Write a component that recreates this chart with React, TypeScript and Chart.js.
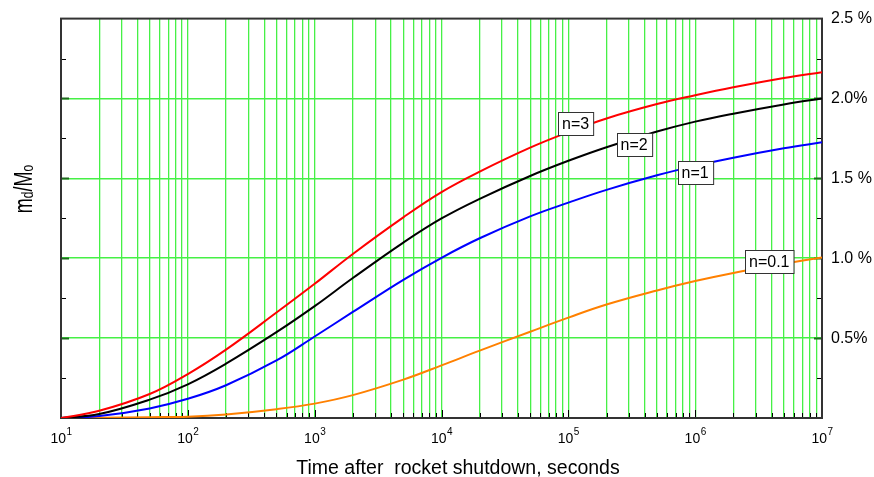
import { useEffect, useRef } from 'react';
import { Chart, registerables } from 'chart.js';

Chart.register(...registerables);

const times = [10, 20, 50, 100, 200, 500, 1e3, 2e3, 5e3, 1e4, 2e4, 5e4, 1e5, 2e5, 5e5, 1e6, 2e6, 5e6, 1e7];
const n3Values = [0, 0.045, 0.15, 0.275, 0.428, 0.66, 0.84, 1.027, 1.256, 1.414, 1.542, 1.692, 1.789, 1.875, 1.965, 2.02, 2.07, 2.128, 2.165];
const n2Values = [0, 0.025, 0.115, 0.211, 0.34, 0.537, 0.7, 0.876, 1.098, 1.249, 1.372, 1.515, 1.61, 1.695, 1.793, 1.855, 1.905, 1.963, 2.0];
const n1Values = [0, 0.012, 0.06, 0.12, 0.205, 0.36, 0.51, 0.664, 0.865, 1.003, 1.125, 1.262, 1.348, 1.428, 1.519, 1.578, 1.629, 1.688, 1.726];
const n01Values = [0, 0.002, 0.005, 0.008, 0.022, 0.055, 0.09, 0.143, 0.24, 0.329, 0.422, 0.54, 0.628, 0.71, 0.798, 0.857, 0.908, 0.965, 1.005];

const seriesNames = ['n=3', 'n=2', 'n=1', 'n=0.1'];
const seriesColors = ['#ff0000', '#000000', '#0000ff', '#ff8000'];
const seriesValues = [n3Values, n2Values, n1Values, n01Values];

const labelTimes = [1.14e5, 3.3e5, 1.0e6, 3.84e6];
const labelValues = [1.842, 1.712, 1.538, 0.977];

const decadeExponents = [1, 2, 3, 4, 5, 6, 7];
const minorMultipliers = [1, 2, 3, 4, 5, 6, 7, 8, 9];
const yTickValues = [0, 0.5, 1, 1.5, 2, 2.5];
const yTickLabels = ['', '0.5%', '1.0 %', '1.5 %', '2.0%', '2.5 %'];
const yMinorTicks = [0.25, 0.75, 1.25, 1.75, 2.25];
const xTitle = 'Time after  rocket shutdown, seconds';

const FONT = '"Liberation Sans", Arial, sans-serif';
const GRID = 'rgb(70,240,70)';

const isDecade = (v: number) => Math.abs(Math.log10(v) - Math.round(Math.log10(v))) < 1e-9;

const decor = {
  id: 'decor',
  beforeDatasetsDraw(chart: any) {
    const { ctx, chartArea: a, scales } = chart;
    const x = scales.x;
    const y = scales.y;
    ctx.save();
    ctx.lineWidth = 1;
    x.ticks.forEach((t: any) => {
      const px = Math.round(x.getPixelForValue(t.value)) + 0.5;
      const major = isDecade(t.value);
      ctx.strokeStyle = '#000';
      ctx.beginPath();
      ctx.moveTo(px, a.bottom);
      ctx.lineTo(px, a.bottom - (major ? 8 : 5));
      ctx.stroke();
    });
    yMinorTicks.forEach((v) => {
      const py = Math.round(y.getPixelForValue(v)) + 0.5;
      ctx.strokeStyle = '#000';
      ctx.beginPath();
      ctx.moveTo(a.left, py);
      ctx.lineTo(a.left + 5, py);
      ctx.moveTo(a.right, py);
      ctx.lineTo(a.right - 5, py);
      ctx.stroke();
    });
    yTickValues.slice(1, -1).forEach((v) => {
      const py = Math.round(y.getPixelForValue(v)) + 0.5;
      ctx.strokeStyle = '#1f6a1f';
      ctx.lineWidth = 2;
      ctx.beginPath();
      ctx.moveTo(a.left, py);
      ctx.lineTo(a.left + 8, py);
      ctx.moveTo(a.right, py);
      ctx.lineTo(a.right - 8, py);
      ctx.stroke();
    });
    ctx.strokeStyle = '#333';
    ctx.lineWidth = 2;
    ctx.strokeRect(a.left, a.top, a.right - a.left, a.bottom - a.top);
    ctx.restore();
  },
  afterDatasetsDraw(chart: any) {
    const { ctx, scales } = chart;
    const x = scales.x;
    const y = scales.y;
    ctx.save();
    ctx.font = `16px ${FONT}`;
    ctx.textAlign = 'center';
    ctx.textBaseline = 'middle';
    seriesNames.forEach((name, i) => {
      const cx = x.getPixelForValue(labelTimes[i]);
      const cy = y.getPixelForValue(labelValues[i]);
      const w = ctx.measureText(name).width + 8;
      const h = 23;
      const l = Math.round(cx - w / 2) + 0.5;
      const t = Math.round(cy - h / 2) + 0.5;
      ctx.fillStyle = '#fff';
      ctx.fillRect(l, t, w, h);
      ctx.strokeStyle = '#333';
      ctx.lineWidth = 1;
      ctx.strokeRect(l, t, w, h);
      ctx.fillStyle = '#000';
      ctx.fillText(name, cx, cy + 1);
    });
    ctx.restore();
  },
  afterDraw(chart: any) {
    const { ctx, scales, chartArea: a } = chart;
    const x = scales.x;
    ctx.save();
    ctx.fillStyle = '#000';
    ctx.textBaseline = 'alphabetic';
    ctx.textAlign = 'left';
    decadeExponents.forEach((e) => {
      const px = x.getPixelForValue(Math.pow(10, e));
      ctx.font = `14px ${FONT}`;
      const wb = ctx.measureText('10').width;
      ctx.font = `10px ${FONT}`;
      const we = ctx.measureText(String(e)).width;
      const start = px - (wb + we) / 2;
      ctx.font = `14px ${FONT}`;
      ctx.fillText('10', start, a.bottom + 25);
      ctx.font = `10px ${FONT}`;
      ctx.fillText(String(e), start + wb + 0.5, a.bottom + 17);
    });
    ctx.font = `19.5px ${FONT}`;
    ctx.textAlign = 'center';
    ctx.fillText(xTitle, 458, a.bottom + 56);
    // y title m_d/M_o (rotated)
    ctx.translate(32, 189);
    ctx.rotate(-Math.PI / 2);
    ctx.scale(1, 1.4);
    const parts: [string, boolean][] = [['m', false], ['d', true], ['/M', false], ['o', true]];
    let total = 0;
    parts.forEach(([s, sub]) => {
      ctx.font = `${sub ? 12 : 18}px ${FONT}`;
      total += ctx.measureText(s).width;
    });
    let cur = -total / 2;
    ctx.textAlign = 'left';
    parts.forEach(([s, sub]) => {
      ctx.font = `${sub ? 12 : 18}px ${FONT}`;
      ctx.fillText(s, cur, sub ? 1 : 0);
      cur += ctx.measureText(s).width;
    });
    ctx.restore();
  },
};

export default function App() {
  const ref = useRef<HTMLCanvasElement | null>(null);
  useEffect(() => {
    if (!ref.current) return;
    Chart.defaults.font.family = FONT;
    const chart = new Chart(ref.current, {
      type: 'line',
      data: {
        datasets: seriesNames.map((name, i) => ({
          label: name,
          data: times.map((t, j) => ({ x: t, y: seriesValues[i][j] })),
          borderColor: seriesColors[i],
          backgroundColor: seriesColors[i],
          borderWidth: 2,
          pointRadius: 0,
          tension: 0.4,
          fill: false,
          yAxisID: 'y',
        })),
      },
      options: {
        responsive: false,
        animation: false,
        layout: { padding: { top: 15, left: 0, right: 0, bottom: 0 } },
        plugins: { legend: { display: false }, tooltip: { enabled: false } },
        scales: {
          x: {
            type: 'logarithmic',
            position: 'bottom',
            min: 10,
            max: 1e7,
            ticks: { display: false },
            border: { display: false },
            grid: { color: GRID, lineWidth: 1.3, drawTicks: false },
            afterBuildTicks: (scale: any) => {
              const ticks: any[] = [];
              decadeExponents.slice(0, -1).forEach((e) => {
                minorMultipliers.forEach((m) => ticks.push({ value: m * Math.pow(10, e) }));
              });
              ticks.push({ value: Math.pow(10, decadeExponents[decadeExponents.length - 1]) });
              scale.ticks = ticks;
            },
            afterFit: (scale: any) => {
              scale.height = 59;
            },
          },
          y: {
            type: 'linear',
            position: 'right',
            min: 0,
            max: 2.5,
            afterBuildTicks: (scale: any) => {
              scale.ticks = yTickValues.map((v) => ({ value: v }));
            },
            ticks: {
              padding: 9,
              color: '#000',
              font: { size: 16, family: FONT },
              callback: (_v: any, idx: number) => yTickLabels[idx],
            },
            border: { display: false },
            grid: {
              drawTicks: false,
              lineWidth: 1.5,
              color: (c: any) => (c.tick && c.tick.value > 0 && c.tick.value < 2.5 ? GRID : 'rgba(0,0,0,0)'),
            },
            afterFit: (scale: any) => {
              scale.width = 52;
            },
          },
          yL: {
            type: 'linear',
            position: 'left',
            min: 0,
            max: 2.5,
            ticks: { display: false },
            grid: { display: false },
            border: { display: false },
            afterFit: (scale: any) => {
              scale.width = 61;
            },
          },
        },
      },
      plugins: [decor],
    });
    return () => chart.destroy();
  }, []);
  return (
    <div style={{ position: 'absolute', left: 0, top: 0, width: 874, height: 477, background: '#fff' }}>
      <canvas ref={ref} width={874} height={477} />
    </div>
  );
}
